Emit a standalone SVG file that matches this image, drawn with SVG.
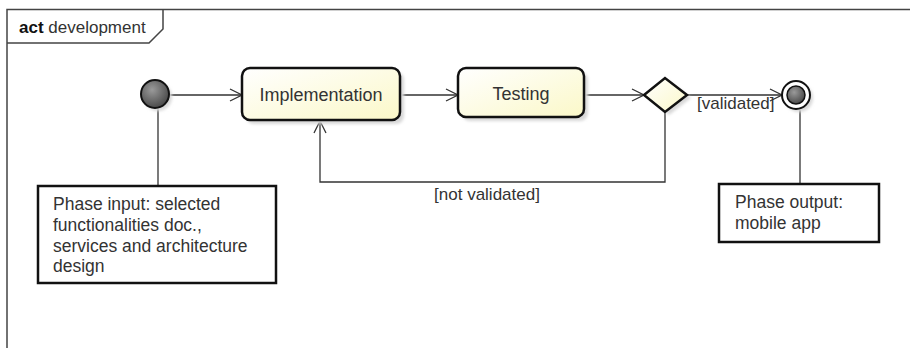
<svg xmlns="http://www.w3.org/2000/svg" width="910" height="348" viewBox="0 0 910 348">
<style>
text{font-family:"Liberation Sans",Arial,sans-serif;fill:#333;}
.lbl{font-size:18px;}
.nt{font-size:17.5px;}
.grd{font-size:17px;}
.act{fill:url(#yel);stroke:#111;stroke-width:2.5;}
.note{fill:#fff;stroke:#111;stroke-width:2.5;}
.sh{fill:#d8d8d8;}
.ln{fill:none;stroke:#333;stroke-width:1.3;}
.frame{fill:none;stroke:#444;stroke-width:1.5;}
</style>
<defs>
<linearGradient id="yel" x1="0" y1="0" x2="1" y2="1">
<stop offset="0" stop-color="#ffffff"/>
<stop offset="1" stop-color="#fbf8c8"/>
</linearGradient>
<radialGradient id="gray" cx="0.4" cy="0.35" r="0.7">
<stop offset="0" stop-color="#9a9a9a"/>
<stop offset="1" stop-color="#444"/>
</radialGradient>
<filter id="blur" x="-20%" y="-20%" width="140%" height="140%"><feGaussianBlur stdDeviation="1.5"/></filter>
<marker id="open" viewBox="0 0 14 14" refX="13" refY="7" markerWidth="14" markerHeight="14" markerUnits="userSpaceOnUse" orient="auto">
<path d="M1,1 L13,7 L1,13" fill="none" stroke="#333" stroke-width="1.3"/>
</marker>
</defs>
<rect width="910" height="348" fill="#fff"/>
<g id="frame">
<path class="frame" d="M7,348 L7,9.5 L910,9.5"/>
<path class="frame" d="M7,43 L149,43 L163,29 L163,9.5"/>
<text x="19" y="33" style="font-size:17px"><tspan font-weight="bold" fill="#111">act</tspan> development</text>
</g>
<g id="connectors">
<path class="ln" d="M170,95 L242,95" marker-end="url(#open)"/>
<path class="ln" d="M402,95 L458,95" marker-end="url(#open)"/>
<path class="ln" d="M585,95 L644,95" marker-end="url(#open)"/>
<path class="ln" d="M687,95 L782,95" marker-end="url(#open)"/>
<path class="ln" d="M665,112 L665,182 L320,182 L320,121" marker-end="url(#open)"/>
<path class="ln" d="M158,108 L158,186"/>
<path class="ln" d="M800,109 L800,184"/>
<text x="697" y="109" class="grd">[validated]</text>
<text x="487" y="200" class="grd" text-anchor="middle">[not validated]</text>
</g>
<g id="initial">
<circle cx="158" cy="97" r="14" class="sh" filter="url(#blur)"/>
<circle cx="155" cy="94" r="14" fill="url(#gray)" stroke="#111" stroke-width="2"/>
</g>
<g id="implementation">
<rect x="246" y="72" width="158" height="52" rx="8" class="sh" filter="url(#blur)"/>
<rect x="242" y="68" width="158" height="52" rx="8" class="act"/>
<text x="321" y="101" class="lbl" text-anchor="middle">Implementation</text>
</g>
<g id="testing">
<rect x="462" y="72" width="126" height="49" rx="8" class="sh" filter="url(#blur)"/>
<rect x="458" y="68" width="126" height="49" rx="8" class="act"/>
<text x="521" y="100" class="lbl" text-anchor="middle">Testing</text>
</g>
<g id="decision">
<path d="M648,98 L669,81 L691,98 L669,115 Z" class="sh" filter="url(#blur)"/>
<path d="M644,95 L665,78 L687,95 L665,112 Z" fill="url(#yel)" stroke="#111" stroke-width="2.5"/>
</g>
<g id="final">
<circle cx="799" cy="98" r="14" class="sh" filter="url(#blur)"/>
<circle cx="796" cy="95" r="14" fill="#fff" stroke="#111" stroke-width="2"/>
<circle cx="796" cy="95" r="9" fill="url(#gray)" stroke="#111" stroke-width="1.5"/>
</g>
<g id="input-note">
<rect x="38" y="186" width="238" height="97" class="note"/>
<text x="53" y="210" class="nt">Phase input: selected</text>
<text x="53" y="231" class="nt">functionalities doc.,</text>
<text x="53" y="252" class="nt">services and architecture</text>
<text x="53" y="272" class="nt">design</text>
</g>
<g id="output-note">
<rect x="719" y="184" width="160" height="58" class="note"/>
<text x="735" y="208" class="nt">Phase output:</text>
<text x="735" y="229" class="nt">mobile app</text>
</g>
</svg>
